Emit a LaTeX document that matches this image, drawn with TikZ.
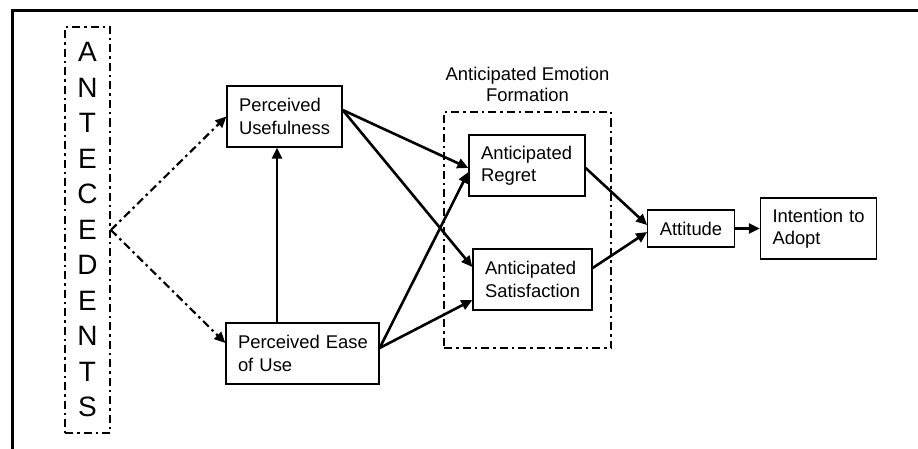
\documentclass[tikz,border=0pt]{standalone}
\usepackage{fontspec}
\setmainfont{Liberation Sans}
\usetikzlibrary{arrows.meta,positioning}

\begin{document}
\begin{tikzpicture}[x=1pt,y=1pt,
   box/.style={draw,line width=1.3pt,align=left,inner xsep=12pt,inner ysep=0pt,
      minimum height=61pt,font=\fontsize{18.4}{22.5}\selectfont},
   arr/.style={-{Triangle[length=11pt,width=10pt]},line width=2.6pt},
   dd/.style={line width=2.2pt,dash pattern=on 8pt off 4pt on 2.5pt off 4pt},
   ddarr/.style={dd,-{Triangle[length=11pt,width=10pt]}}]
   \useasboundingbox (0,0) rectangle (918,448);
   % frame
   \draw[line width=3pt] (12.5,-10) -- (12.5,437.5) -- (930,437.5);
   \node[draw,dd,line width=1.8pt,minimum width=45pt,minimum height=406pt,inner sep=0pt,
      align=center,font=\fontsize{28}{35.5}\selectfont] (ant) at (87.5,218)
      {A\\N\\T\\E\\C\\E\\D\\E\\N\\T\\S};
   \node[draw,dd,minimum width=167pt,minimum height=236pt,inner sep=0pt] (grp) at (527.5,218) {};
   \node[above=9pt of grp.north,inner sep=0pt,align=center,
      font=\fontsize{18.4}{21}\selectfont] (ttl) {Anticipated Emotion\\Formation};
   \node[box,text width=91pt] (PU) at (284.5,331.5) {Perceived\\Usefulness};
   \node[box,text width=129pt] (PEU) at (302.5,94.5) {Perceived~Ease\\of Use};
   \node[box,text width=92pt] (AR) at (527,282.5) {Anticipated\\Regret};
   \node[box,text width=95pt] (AS) at (532.5,168.5) {Anticipated\\Satisfaction};
   \node[box,minimum height=37pt] (Att) at (691,219.5) {Attitude};
   \node[box,text width=92pt,right=25pt of Att] (Int) {Intention~to\\Adopt};
   \path[ddarr]
    (ant.east) edge (PU.west)
    (ant.east) edge ([yshift=10.5pt]PEU.west);
   \path[arr]
    ([xshift=-25.5pt]PEU.north) edge ([xshift=-7.5pt]PU.south)
    ([yshift=6.5pt]PU.east) edge ([yshift=-2.5pt]AR.west)
    ([yshift=6.5pt]PU.east) edge ([yshift=12.5pt]AS.west)
    ([yshift=5.5pt]PEU.east) edge ([yshift=-6.5pt]AR.west)
    ([yshift=5.5pt]PEU.east) edge ([yshift=-20.5pt]AS.west)
    ([yshift=-2.5pt]AR.east) edge ([yshift=3.5pt]Att.west)
    ([yshift=11.5pt]AS.east) edge ([yshift=-3.5pt]Att.west)
    (Att.east) edge (Int.west);
\end{tikzpicture}
\end{document}
